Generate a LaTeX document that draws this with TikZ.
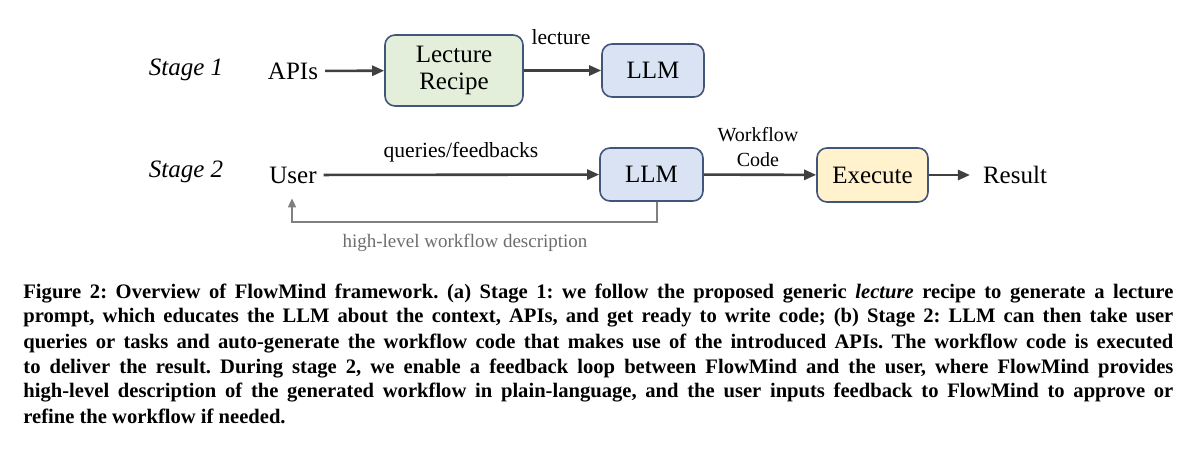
\documentclass[tikz,border=0pt]{standalone}
\usepackage{fontspec}
\setmainfont{Liberation Serif}
\usetikzlibrary{arrows.meta,positioning}

\definecolor{boxline}{HTML}{42557A}
\definecolor{recipefill}{HTML}{E3EFDA}
\definecolor{llmfill}{HTML}{DAE3F3}
\definecolor{execfill}{HTML}{FFF2CC}
\definecolor{arrowgray}{HTML}{404040}
\definecolor{loopgray}{HTML}{808080}

\begin{document}
\frenchspacing
\begin{tikzpicture}[x=0.5pt,y=-0.5pt]
    \tikzset{box/.style={draw=boxline, line width=0.8pt, rounded corners=5pt, align=center, inner sep=0pt, font=\fontsize{12.5}{13.5}\selectfont}}
    \tikzset{word/.style={font=\fontsize{12.5}{14}\selectfont}}
    \tikzset{lbl/.style={align=center, font=\fontsize{10.8}{12.5}\selectfont}}
    \tikzset{flow/.style={draw=arrowgray, line width=1.3pt, -{Triangle[length=6pt,width=5pt]}}}
    \tikzset{loop/.style={draw=loopgray, line width=0.8pt, -{Triangle[length=4.5pt,width=4pt]}}}
    \useasboundingbox (0,0) rectangle (1200,449);

    % stage 1
    \node[word, font=\fontsize{12.5}{14}\selectfont\itshape] (stage1) at (186,70) {Stage 1};
    \node[word] (apis) at (293,71) {APIs};
    \node[box, fill=recipefill, minimum width=69pt, minimum height=35.5pt] (recipe) at (454,70.5) {Lecture\\Recipe};
    \node[box, fill=llmfill, minimum width=51pt, minimum height=26.5pt] (llm1) at (653,70.5) {LLM};
    \node[lbl] (lecture) at (561,37) {lecture};
    \draw[flow] (apis) -- (recipe);
    \draw[flow] (recipe) -- (llm1);

    % stage 2
    \node[word, font=\fontsize{12.5}{14}\selectfont\itshape] (stage2) at (186,172) {Stage 2};
    \node[word] (user) at (293,175) {User};
    \node[box, fill=llmfill, minimum width=51.5pt, minimum height=26.5pt] (llm2) at (651.5,174.5) {LLM};
    \node[box, fill=execfill, minimum width=55.5pt, minimum height=27pt] (exec) at (872.5,175) {Execute};
    \node[word] (result) at (1015,175) {Result};
    \node[lbl] (queries) at (461,152) {queries/feedbacks};
    \node[lbl, font=\fontsize{10}{12.5}\selectfont] (wfcode) at (758,147) {Workflow\\Code};
    \draw[flow] (user) -- (llm2);
    \draw[flow] (llm2) -- (exec);
    \draw[flow, shorten >=3pt] (exec) -- (result);

    % feedback loop
    \coordinate (fbR) at (657,222);
    \coordinate (fbL) at (292,222);
    \draw[loop, shorten >=4pt] (llm2.south -| fbR) -- (fbR) -- (fbL) -- (user.south -| fbL);
    \node[lbl, text=loopgray!85!black, font=\fontsize{9.5}{11}\selectfont] (hlwd) at (465,243) {high-level workflow description};

    % caption
    \node[anchor=base west, text width=575pt, inner sep=0pt, align=justify, font=\fontsize{10.3}{12.5}\selectfont\bfseries] (caption) at (23,298)
      {Figure 2: Overview of FlowMind framework. (a) Stage 1: we follow the proposed generic \textit{lecture} recipe to generate a lecture\linebreak
       prompt, which educates the LLM about the context, APIs, and get ready to write code; (b) Stage 2: LLM can then take user\linebreak
       queries or tasks and auto-generate the workflow code that makes use of the introduced APIs. The workflow code is executed\linebreak
       to deliver the result. During stage 2, we enable a feedback loop between FlowMind and the user, where FlowMind provides\linebreak
       high-level description of the generated workflow in plain-language, and the user inputs feedback to FlowMind to approve or\linebreak
       refine the workflow if needed.};
\end{tikzpicture}
\end{document}
